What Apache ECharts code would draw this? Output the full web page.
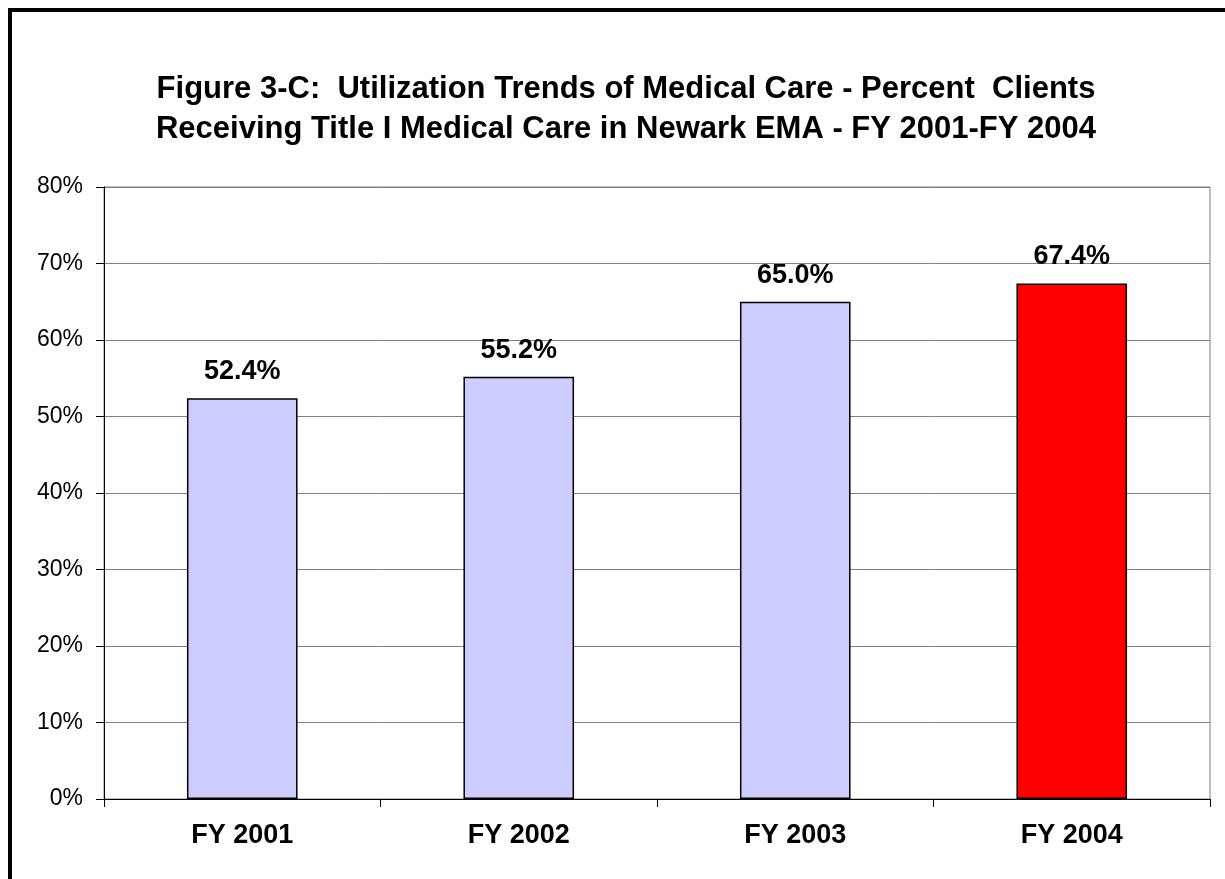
<!DOCTYPE html>
<html>
<head>
<meta charset="utf-8">
<script src="https://cdn.jsdelivr.net/npm/echarts@6/dist/echarts.min.js"></script>
<style>
  html, body { margin: 0; padding: 0; background: #fff; }
  #chart { width: 1225px; height: 879px; }
</style>
</head>
<body>
<div id="chart"></div>
<script>
const categories = ['FY 2001', 'FY 2002', 'FY 2003', 'FY 2004']
const percentClients = [52.4, 55.2, 65.0, 67.4]
const barColors = ['#CCCCFF', '#CCCCFF', '#CCCCFF', '#FF0000']

const chart = echarts.init(document.getElementById('chart'))
chart.setOption({
  animation: false,
  textStyle: { fontFamily: '"Liberation Sans", Arial, sans-serif' },
  title: {
    text: 'Figure 3-C:  Utilization Trends of Medical Care - Percent  Clients\nReceiving Title I Medical Care in Newark EMA - FY 2001-FY 2004',
    left: 621,
    top: 64,
    textAlign: 'center',
    textStyle: {
      fontFamily: '"Liberation Sans", Arial, sans-serif',
      fontSize: 31,
      fontWeight: 'bold',
      color: '#000',
      lineHeight: 40
    }
  },
  graphic: [
    {
      type: 'rect',
      shape: { x: 10, y: 10, width: 1400, height: 1000 },
      style: { fill: 'none', stroke: '#000', lineWidth: 4 },
      silent: true
    }
  ],
  grid: {
    left: 104, right: 15, top: 187, bottom: 80,
    show: true, borderColor: '#808080', borderWidth: 1
  },
  xAxis: {
    type: 'category',
    data: categories,
    axisLine: { lineStyle: { color: '#000', width: 1 } },
    axisTick: { show: true, length: 8, lineStyle: { color: '#000' } },
    axisLabel: {
      margin: 23,
      fontSize: 27,
      fontWeight: 'bold',
      color: '#000'
    }
  },
  yAxis: {
    type: 'value',
    min: 0,
    max: 80,
    interval: 10,
    axisLine: { show: true, lineStyle: { color: '#000', width: 1 } },
    axisTick: { show: true, length: 8, lineStyle: { color: '#000' } },
    axisLabel: {
      formatter: '{value}%',
      margin: 21,
      fontSize: 23,
      color: '#000'
    },
    splitLine: { lineStyle: { color: '#808080', width: 1 } }
  },
  series: [
    {
      type: 'bar',
      barWidth: '40%',
      data: percentClients.map((v, i) => ({
        value: v,
        itemStyle: { color: barColors[i], borderColor: '#000', borderWidth: 1.5 }
      })),
      label: {
        show: true,
        position: 'top',
        distance: 13,
        formatter: p => p.value.toFixed(1) + '%',
        fontSize: 27,
        fontWeight: 'bold',
        color: '#000'
      }
    }
  ]
})
</script>
</body>
</html>
